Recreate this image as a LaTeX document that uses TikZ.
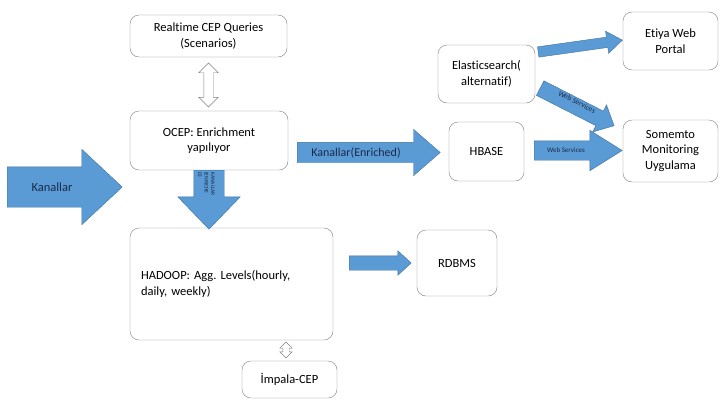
\documentclass[tikz,border=0pt]{standalone}
\usepackage{fontspec}
\setmainfont{Carlito}[Ligatures=NoCommon]
\usetikzlibrary{shapes.arrows}

\definecolor{arrowblue}{HTML}{5B9BD5}
\definecolor{arrowedge}{HTML}{41719C}
\definecolor{boxedge}{HTML}{808080}
\definecolor{labelnavy}{HTML}{1A2A48}

\begin{document}
\begin{tikzpicture}[
        x=1pt, y=-1pt,
        box/.style={
            draw=boxedge,
            fill=white,
            rounded corners=9pt,
            align=center,
            inner sep=0pt,
            font=\fontsize{12.5}{15.5}\selectfont\frenchspacing
        },
        blockarrow/.style={
            single arrow,
            draw=arrowedge,
            fill=arrowblue,
            inner sep=0pt,
            text depth=0pt,
            anchor=tail
        },
        hollowarrow/.style={
            double arrow,
            draw=boxedge,
            fill=white,
            inner sep=0pt,
            text depth=0pt,
            rotate=90
        },
        arrowtext/.style={
            text=labelnavy,
            inner sep=0pt
        }
    ]

    \useasboundingbox (0,0) rectangle (720,405);

    % Kutular
    \node[box, minimum width=157, minimum height=42] (realtime) at (208.5,36)  {Realtime CEP Queries\\(Scenarios)};
    \node[box, minimum width=158, minimum height=59] (ocep)     at (209,140.5) {OCEP: Enrichment\\yapılıyor};
    \node[box, minimum width=203, minimum height=112, text width=181, align=left] (hadoop) at (231.5,284) {HADOOP: Agg. Levels(hourly,\\daily, weekly)};
    \node[box, minimum width=95,  minimum height=37] (impala)   at (289.5,379.5) {İmpala-CEP};
    \node[box, minimum width=80,  minimum height=66] (rdbms)    at (457,263)   {RDBMS};
    \node[box, minimum width=75,  minimum height=59] (hbase)    at (486.5,151.5) {HBASE};
    \node[box, minimum width=97,  minimum height=58] (elastic)  at (486.5,74)  {Elasticsearch(\\alternatif)};
    \node[box, minimum width=95,  minimum height=58] (etiya)    at (670.5,41)  {Etiya Web\\Portal};
    \node[box, minimum width=95,  minimum height=62] (somemto)  at (670.5,151) {Somemto\\Monitoring\\Uygulama};

    % Cift yonlu oklar
    \node[hollowarrow, minimum height=44, text height=9pt, double arrow head extend=5] (qarrow)   at (208.5,85) {};
    \node[hollowarrow, minimum height=16, text height=6pt, double arrow head extend=3] (iarrow)   at (286,350)  {};

    % Blok oklar
    \node[blockarrow, minimum height=115, text height=40pt, single arrow head extend=17.5, single arrow tip angle=86] (kanallar) at (7,187) {};
    \node[arrowtext, font=\fontsize{12.5}{15}\selectfont] (kanallartext) at (52,187) {Kanallar};

    \node[blockarrow, minimum height=143, text height=20pt, single arrow head extend=13, single arrow tip angle=82] (enriched) at (297,152.5) {};
    \node[arrowtext, font=\fontsize{12}{15}\selectfont] (enrichedtext) at (356,152.5) {Kanallar(Enriched)};

    \node[blockarrow, rotate=-90, minimum height=59, text height=30pt, single arrow head extend=16, single arrow tip angle=88] (down) at (209,170) {};
    \node[arrowtext, rotate=-90, align=left, font=\fontsize{5.5}{6.5}\selectfont] (downtext) at (206,184) {KANALLAR\\(ENRICHE\\D)};

    \node[blockarrow, minimum height=62, text height=14pt, single arrow head extend=5, single arrow tip angle=85] (rdbmsarrow) at (349,263) {};

    \node[blockarrow, rotate=8, minimum height=85, text height=10pt, single arrow head extend=6, single arrow tip angle=72] (etiyaarrow) at (538,52) {};

    \node[blockarrow, rotate=-27, minimum height=83, text height=16pt, single arrow head extend=7, single arrow tip angle=86] (wsdiag) at (540,88) {};
    \node[arrowtext, rotate=-27, font=\fontsize{7.5}{8}\selectfont] (wsdiagtext) at (577,102) {Web Services};

    \node[blockarrow, minimum height=88, text height=19pt, single arrow head extend=10.5, single arrow tip angle=64] (wshor) at (534,150.5) {};
    \node[arrowtext, font=\fontsize{7}{8}\selectfont] (wshortext) at (566,150) {Web Services};

\end{tikzpicture}
\end{document}
